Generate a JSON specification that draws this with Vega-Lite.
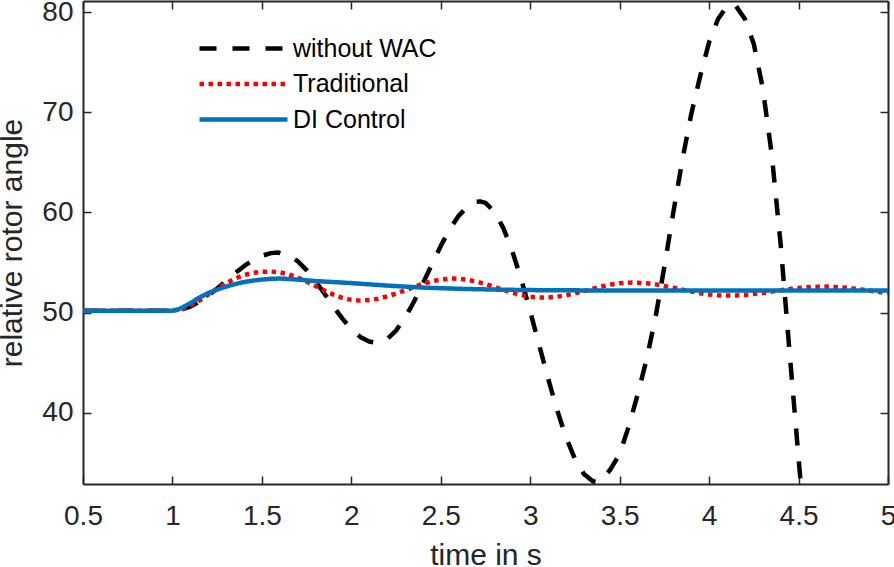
{
  "$schema": "https://vega.github.io/schema/vega-lite/v6.json",
  "width": 805,
  "height": 483,
  "autosize": {"type": "none"},
  "padding": {"left": 83, "top": 1, "right": 6, "bottom": 83},
  "background": "white",
  "config": {
    "view": {"stroke": null},
    "font": "Liberation Sans",
    "axis": {
      "domainColor": "#262626",
      "domainWidth": 2,
      "tickColor": "#262626",
      "tickWidth": 1.5,
      "tickSize": -8,
      "grid": false,
      "labelColor": "#262626",
      "titleColor": "#262626",
      "labelFont": "Liberation Sans",
      "titleFont": "Liberation Sans",
      "labelFontSize": 28,
      "titleFontSize": 30,
      "titleFontWeight": "normal"
    }
  },
  "data": {
    "values": [
      {"series": "without WAC", "t": 0.5, "v": 50.2},
      {"series": "without WAC", "t": 0.75, "v": 50.2},
      {"series": "without WAC", "t": 1.0, "v": 50.2},
      {"series": "without WAC", "t": 1.05, "v": 50.3},
      {"series": "without WAC", "t": 1.1, "v": 50.6},
      {"series": "without WAC", "t": 1.15, "v": 51.08},
      {"series": "without WAC", "t": 1.2, "v": 51.7},
      {"series": "without WAC", "t": 1.25, "v": 52.41},
      {"series": "without WAC", "t": 1.3, "v": 53.18},
      {"series": "without WAC", "t": 1.35, "v": 53.94},
      {"series": "without WAC", "t": 1.4, "v": 54.64},
      {"series": "without WAC", "t": 1.45, "v": 55.23},
      {"series": "without WAC", "t": 1.5, "v": 55.67},
      {"series": "without WAC", "t": 1.55, "v": 55.94},
      {"series": "without WAC", "t": 1.59, "v": 56.0},
      {"series": "without WAC", "t": 1.65, "v": 55.74},
      {"series": "without WAC", "t": 1.7, "v": 55.14},
      {"series": "without WAC", "t": 1.75, "v": 54.25},
      {"series": "without WAC", "t": 1.8, "v": 53.13},
      {"series": "without WAC", "t": 1.85, "v": 51.89},
      {"series": "without WAC", "t": 1.9, "v": 50.6},
      {"series": "without WAC", "t": 1.95, "v": 49.4},
      {"series": "without WAC", "t": 2.0, "v": 48.36},
      {"series": "without WAC", "t": 2.05, "v": 47.58},
      {"series": "without WAC", "t": 2.1, "v": 47.12},
      {"series": "without WAC", "t": 2.14, "v": 47.0},
      {"series": "without WAC", "t": 2.2, "v": 47.37},
      {"series": "without WAC", "t": 2.25, "v": 48.21},
      {"series": "without WAC", "t": 2.3, "v": 49.49},
      {"series": "without WAC", "t": 2.35, "v": 51.09},
      {"series": "without WAC", "t": 2.4, "v": 52.91},
      {"series": "without WAC", "t": 2.45, "v": 54.81},
      {"series": "without WAC", "t": 2.5, "v": 56.66},
      {"series": "without WAC", "t": 2.55, "v": 58.32},
      {"series": "without WAC", "t": 2.6, "v": 59.66},
      {"series": "without WAC", "t": 2.65, "v": 60.6},
      {"series": "without WAC", "t": 2.7, "v": 61.06},
      {"series": "without WAC", "t": 2.72, "v": 61.1},
      {"series": "without WAC", "t": 2.75, "v": 60.96},
      {"series": "without WAC", "t": 2.8, "v": 60.06},
      {"series": "without WAC", "t": 2.85, "v": 58.43},
      {"series": "without WAC", "t": 2.9, "v": 56.13},
      {"series": "without WAC", "t": 2.95, "v": 53.3},
      {"series": "without WAC", "t": 3.0, "v": 50.12},
      {"series": "without WAC", "t": 3.05, "v": 46.76},
      {"series": "without WAC", "t": 3.1, "v": 43.42},
      {"series": "without WAC", "t": 3.15, "v": 40.3},
      {"series": "without WAC", "t": 3.2, "v": 37.57},
      {"series": "without WAC", "t": 3.25, "v": 35.4},
      {"series": "without WAC", "t": 3.3, "v": 33.9},
      {"series": "without WAC", "t": 3.35, "v": 33.17},
      {"series": "without WAC", "t": 3.37, "v": 33.1},
      {"series": "without WAC", "t": 3.4, "v": 33.3},
      {"series": "without WAC", "t": 3.45, "v": 34.4},
      {"series": "without WAC", "t": 3.5, "v": 35.9},
      {"series": "without WAC", "t": 3.55, "v": 38.6},
      {"series": "without WAC", "t": 3.6, "v": 41.8},
      {"series": "without WAC", "t": 3.65, "v": 45.3},
      {"series": "without WAC", "t": 3.7, "v": 49.5},
      {"series": "without WAC", "t": 3.75, "v": 54.6},
      {"series": "without WAC", "t": 3.8, "v": 60.0},
      {"series": "without WAC", "t": 3.85, "v": 65.2},
      {"series": "without WAC", "t": 3.9, "v": 69.8},
      {"series": "without WAC", "t": 3.95, "v": 73.6},
      {"series": "without WAC", "t": 4.0, "v": 77.0},
      {"series": "without WAC", "t": 4.05, "v": 79.3},
      {"series": "without WAC", "t": 4.1, "v": 80.6},
      {"series": "without WAC", "t": 4.12, "v": 80.8},
      {"series": "without WAC", "t": 4.15, "v": 80.6},
      {"series": "without WAC", "t": 4.2, "v": 79.3},
      {"series": "without WAC", "t": 4.25, "v": 76.8},
      {"series": "without WAC", "t": 4.3, "v": 72.4},
      {"series": "without WAC", "t": 4.35, "v": 65.8},
      {"series": "without WAC", "t": 4.4, "v": 56.8},
      {"series": "without WAC", "t": 4.45, "v": 46.0},
      {"series": "without WAC", "t": 4.5, "v": 35.5},
      {"series": "without WAC", "t": 4.55, "v": 25.0},
      {"series": "Traditional", "t": 0.5, "v": 50.2},
      {"series": "Traditional", "t": 0.75, "v": 50.2},
      {"series": "Traditional", "t": 1.0, "v": 50.2},
      {"series": "Traditional", "t": 1.05, "v": 50.35},
      {"series": "Traditional", "t": 1.1, "v": 50.7},
      {"series": "Traditional", "t": 1.15, "v": 51.2},
      {"series": "Traditional", "t": 1.2, "v": 51.8},
      {"series": "Traditional", "t": 1.25, "v": 52.4},
      {"series": "Traditional", "t": 1.3, "v": 52.95},
      {"series": "Traditional", "t": 1.35, "v": 53.4},
      {"series": "Traditional", "t": 1.4, "v": 53.75},
      {"series": "Traditional", "t": 1.45, "v": 53.98},
      {"series": "Traditional", "t": 1.5, "v": 54.08},
      {"series": "Traditional", "t": 1.55, "v": 54.1},
      {"series": "Traditional", "t": 1.6, "v": 54.03},
      {"series": "Traditional", "t": 1.65, "v": 53.82},
      {"series": "Traditional", "t": 1.7, "v": 53.5},
      {"series": "Traditional", "t": 1.75, "v": 53.1},
      {"series": "Traditional", "t": 1.8, "v": 52.65},
      {"series": "Traditional", "t": 1.85, "v": 52.2},
      {"series": "Traditional", "t": 1.9, "v": 51.8},
      {"series": "Traditional", "t": 1.95, "v": 51.48},
      {"series": "Traditional", "t": 2.0, "v": 51.27},
      {"series": "Traditional", "t": 2.05, "v": 51.2},
      {"series": "Traditional", "t": 2.1, "v": 51.25},
      {"series": "Traditional", "t": 2.15, "v": 51.39},
      {"series": "Traditional", "t": 2.2, "v": 51.62},
      {"series": "Traditional", "t": 2.25, "v": 51.91},
      {"series": "Traditional", "t": 2.3, "v": 52.23},
      {"series": "Traditional", "t": 2.35, "v": 52.56},
      {"series": "Traditional", "t": 2.4, "v": 52.87},
      {"series": "Traditional", "t": 2.45, "v": 53.12},
      {"series": "Traditional", "t": 2.5, "v": 53.3},
      {"series": "Traditional", "t": 2.55, "v": 53.39},
      {"series": "Traditional", "t": 2.57, "v": 53.4},
      {"series": "Traditional", "t": 2.6, "v": 53.38},
      {"series": "Traditional", "t": 2.65, "v": 53.28},
      {"series": "Traditional", "t": 2.7, "v": 53.1},
      {"series": "Traditional", "t": 2.75, "v": 52.85},
      {"series": "Traditional", "t": 2.8, "v": 52.57},
      {"series": "Traditional", "t": 2.85, "v": 52.27},
      {"series": "Traditional", "t": 2.9, "v": 51.99},
      {"series": "Traditional", "t": 2.95, "v": 51.76},
      {"series": "Traditional", "t": 3.0, "v": 51.59},
      {"series": "Traditional", "t": 3.05, "v": 51.51},
      {"series": "Traditional", "t": 3.07, "v": 51.5},
      {"series": "Traditional", "t": 3.1, "v": 51.51},
      {"series": "Traditional", "t": 3.15, "v": 51.59},
      {"series": "Traditional", "t": 3.2, "v": 51.74},
      {"series": "Traditional", "t": 3.25, "v": 51.93},
      {"series": "Traditional", "t": 3.3, "v": 52.16},
      {"series": "Traditional", "t": 3.35, "v": 52.39},
      {"series": "Traditional", "t": 3.4, "v": 52.61},
      {"series": "Traditional", "t": 3.45, "v": 52.8},
      {"series": "Traditional", "t": 3.5, "v": 52.93},
      {"series": "Traditional", "t": 3.55, "v": 52.99},
      {"series": "Traditional", "t": 3.57, "v": 53.0},
      {"series": "Traditional", "t": 3.6, "v": 52.99},
      {"series": "Traditional", "t": 3.65, "v": 52.93},
      {"series": "Traditional", "t": 3.7, "v": 52.82},
      {"series": "Traditional", "t": 3.75, "v": 52.66},
      {"series": "Traditional", "t": 3.8, "v": 52.48},
      {"series": "Traditional", "t": 3.85, "v": 52.29},
      {"series": "Traditional", "t": 3.9, "v": 52.11},
      {"series": "Traditional", "t": 3.95, "v": 51.94},
      {"series": "Traditional", "t": 4.0, "v": 51.81},
      {"series": "Traditional", "t": 4.05, "v": 51.73},
      {"series": "Traditional", "t": 4.1, "v": 51.7},
      {"series": "Traditional", "t": 4.15, "v": 51.72},
      {"series": "Traditional", "t": 4.2, "v": 51.77},
      {"series": "Traditional", "t": 4.25, "v": 51.86},
      {"series": "Traditional", "t": 4.3, "v": 51.97},
      {"series": "Traditional", "t": 4.35, "v": 52.1},
      {"series": "Traditional", "t": 4.4, "v": 52.23},
      {"series": "Traditional", "t": 4.45, "v": 52.35},
      {"series": "Traditional", "t": 4.5, "v": 52.46},
      {"series": "Traditional", "t": 4.55, "v": 52.54},
      {"series": "Traditional", "t": 4.6, "v": 52.59},
      {"series": "Traditional", "t": 4.64, "v": 52.6},
      {"series": "Traditional", "t": 4.7, "v": 52.57},
      {"series": "Traditional", "t": 4.75, "v": 52.51},
      {"series": "Traditional", "t": 4.8, "v": 52.42},
      {"series": "Traditional", "t": 4.85, "v": 52.31},
      {"series": "Traditional", "t": 4.9, "v": 52.19},
      {"series": "Traditional", "t": 4.95, "v": 52.07},
      {"series": "Traditional", "t": 5.0, "v": 51.98},
      {"series": "DI Control", "t": 0.5, "v": 50.2},
      {"series": "DI Control", "t": 0.75, "v": 50.2},
      {"series": "DI Control", "t": 1.0, "v": 50.2},
      {"series": "DI Control", "t": 1.03, "v": 50.3},
      {"series": "DI Control", "t": 1.06, "v": 50.55},
      {"series": "DI Control", "t": 1.1, "v": 50.95},
      {"series": "DI Control", "t": 1.15, "v": 51.5},
      {"series": "DI Control", "t": 1.2, "v": 51.95},
      {"series": "DI Control", "t": 1.25, "v": 52.3},
      {"series": "DI Control", "t": 1.3, "v": 52.6},
      {"series": "DI Control", "t": 1.35, "v": 52.85},
      {"series": "DI Control", "t": 1.4, "v": 53.05},
      {"series": "DI Control", "t": 1.45, "v": 53.2},
      {"series": "DI Control", "t": 1.5, "v": 53.3},
      {"series": "DI Control", "t": 1.55, "v": 53.38},
      {"series": "DI Control", "t": 1.6, "v": 53.4},
      {"series": "DI Control", "t": 1.65, "v": 53.36},
      {"series": "DI Control", "t": 1.7, "v": 53.3},
      {"series": "DI Control", "t": 1.8, "v": 53.15},
      {"series": "DI Control", "t": 1.9, "v": 53.05},
      {"series": "DI Control", "t": 2.0, "v": 52.95},
      {"series": "DI Control", "t": 2.2, "v": 52.7},
      {"series": "DI Control", "t": 2.4, "v": 52.5},
      {"series": "DI Control", "t": 2.6, "v": 52.38},
      {"series": "DI Control", "t": 2.8, "v": 52.3},
      {"series": "DI Control", "t": 3.0, "v": 52.25},
      {"series": "DI Control", "t": 3.5, "v": 52.2},
      {"series": "DI Control", "t": 4.0, "v": 52.2},
      {"series": "DI Control", "t": 4.5, "v": 52.2},
      {"series": "DI Control", "t": 5.0, "v": 52.2}
    ]
  },
  "layer": [
    {
      "mark": {"type": "line", "clip": true, "strokeCap": "butt", "strokeJoin": "round"},
      "encoding": {
        "x": {
          "field": "t", "type": "quantitative",
          "scale": {"domain": [0.5, 5], "nice": false, "zero": false},
          "axis": {"orient": "bottom", "values": [0.5, 1, 1.5, 2, 2.5, 3, 3.5, 4, 4.5, 5], "format": "~g", "labelPadding": 26, "title": "time in s", "titlePadding": 10, "labelFlush": false}
        },
        "y": {
          "field": "v", "type": "quantitative",
          "scale": {"domain": [32.9, 81.1], "nice": false, "zero": false},
          "axis": {"orient": "left", "values": [40, 50, 60, 70, 80], "labelPadding": 18, "title": "relative rotor angle", "titlePadding": 14}
        },
        "color": {
          "field": "series", "type": "nominal",
          "scale": {"domain": ["without WAC", "Traditional", "DI Control"], "range": ["#000000", "#FF0000", "#0072BD"]},
          "legend": {
            "title": null,
            "orient": "none",
            "legendX": 147,
            "legendY": 34,
            "symbolType": "M-4,0H4",
            "symbolSize": 484,
            "symbolStrokeWidth": 4.5,
            "labelFontSize": 25,
            "labelFont": "Liberation Sans",
            "labelColor": "#000000",
            "labelOffset": 36,
            "rowPadding": 8.5,
            "padding": 0
          }
        },
        "strokeDash": {
          "field": "series", "type": "nominal",
          "scale": {"domain": ["without WAC", "Traditional", "DI Control"], "range": [[17, 16], [4.5, 4.5], [1, 0]]},
          "legend": null
        },
        "strokeWidth": {
          "field": "series", "type": "nominal",
          "scale": {"domain": ["without WAC", "Traditional", "DI Control"], "range": [4.5, 4.5, 5]},
          "legend": null
        }
      }
    },
    {
      "mark": {"type": "line", "strokeOpacity": 0},
      "encoding": {
        "x": {
          "field": "t", "type": "quantitative",
          "axis": {"orient": "top", "values": [0.5, 1, 1.5, 2, 2.5, 3, 3.5, 4, 4.5, 5], "labels": false, "title": null}
        },
        "y": {
          "field": "v", "type": "quantitative",
          "axis": {"orient": "right", "values": [40, 50, 60, 70, 80], "labels": false, "title": null}
        }
      }
    }
  ],
  "resolve": {"axis": {"x": "independent", "y": "independent"}}
}
